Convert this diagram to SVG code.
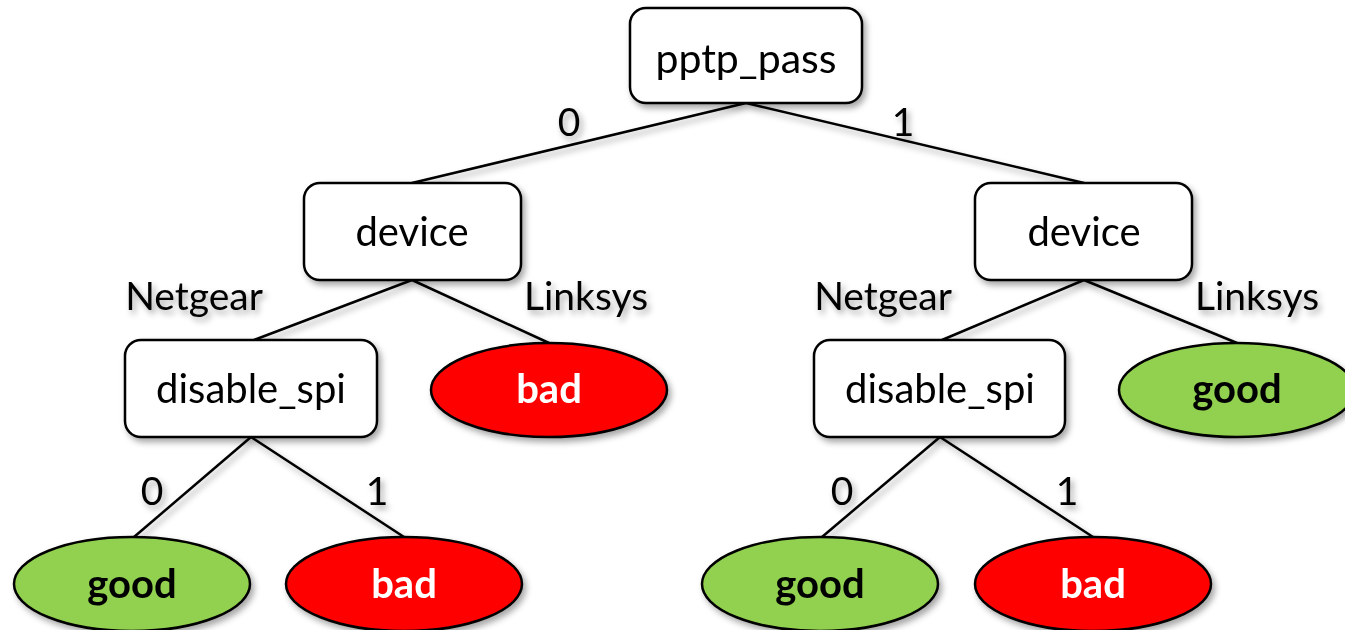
<svg xmlns="http://www.w3.org/2000/svg" width="1345" height="630" viewBox="0 0 1345 630">
<defs>
<filter id="sh" x="-20%" y="-20%" width="140%" height="140%">
<feDropShadow dx="3" dy="4" stdDeviation="3" flood-color="#000" flood-opacity="0.35"/>
</filter>
<style>
.box{fill:#fff;stroke:#000;stroke-width:2.5}
.good{fill:#92D050;stroke:#000;stroke-width:2.5}
.bad{fill:#FF0000;stroke:#000;stroke-width:2.5}
.t{font-family:Lato,"Open Sans",sans-serif;font-size:40px;fill:#000;text-anchor:middle}
.tb{font-family:Lato,"Open Sans",sans-serif;font-size:40px;font-weight:bold;text-anchor:middle}
.lbl{font-family:Lato,"Open Sans",sans-serif;font-size:39px;fill:#000;text-anchor:middle}
.edge{stroke:#000;stroke-width:2.5;fill:none}
</style>
</defs>
<g filter="url(#sh)">
<g id="connectors">
<line class="edge" x1="746" y1="103" x2="412" y2="183"/>
<line class="edge" x1="746" y1="103" x2="1084" y2="183"/>
<line class="edge" x1="412" y1="280" x2="254" y2="340"/>
<line class="edge" x1="412" y1="280" x2="549" y2="343"/>
<line class="edge" x1="1084" y1="280" x2="942" y2="340"/>
<line class="edge" x1="1084" y1="280" x2="1237" y2="343"/>
<line class="edge" x1="251" y1="437" x2="134" y2="537"/>
<line class="edge" x1="251" y1="437" x2="404" y2="537"/>
<line class="edge" x1="940" y1="437" x2="822" y2="537"/>
<line class="edge" x1="940" y1="437" x2="1093" y2="537"/>
<text class="lbl" x="569" y="136">0</text>
<text class="lbl" x="903" y="136">1</text>
<text class="lbl" x="194" y="310">Netgear</text>
<text class="lbl" x="586" y="310">Linksys</text>
<text class="lbl" x="883" y="310">Netgear</text>
<text class="lbl" x="1257" y="310">Linksys</text>
<text class="lbl" x="152" y="505">0</text>
<text class="lbl" x="377" y="505">1</text>
<text class="lbl" x="842" y="505">0</text>
<text class="lbl" x="1067" y="505">1</text>
</g>
<g id="n-pptp">
<rect class="box" x="630" y="8" width="232" height="95" rx="16"/>
<text class="t" x="746" y="73" style="font-size:41px">pptp_pass</text>
</g>
<g id="n-device-l">
<rect class="box" x="304" y="183" width="217" height="97" rx="16"/>
<text class="t" x="412" y="246">device</text>
</g>
<g id="n-device-r">
<rect class="box" x="975" y="183" width="217" height="97" rx="16"/>
<text class="t" x="1084" y="246">device</text>
</g>
<g id="n-spi-l">
<rect class="box" x="125" y="340" width="252" height="97" rx="16"/>
<text class="t" x="251" y="403">disable_spi</text>
</g>
<g id="n-spi-r">
<rect class="box" x="814" y="340" width="251" height="97" rx="16"/>
<text class="t" x="940" y="403">disable_spi</text>
</g>
<g id="n-bad-mid">
<ellipse class="bad" cx="549" cy="390" rx="118" ry="47"/>
<text class="tb" x="549" y="403" fill="#fff">bad</text>
</g>
<g id="n-good-right">
<ellipse class="good" cx="1237" cy="390" rx="118" ry="47"/>
<text class="tb" x="1237" y="403" fill="#000">good</text>
</g>
<g id="n-good-ll">
<ellipse class="good" cx="132" cy="584" rx="118" ry="47"/>
<text class="tb" x="132" y="598" fill="#000">good</text>
</g>
<g id="n-bad-ll">
<ellipse class="bad" cx="404" cy="584" rx="118" ry="47"/>
<text class="tb" x="404" y="598" fill="#fff">bad</text>
</g>
<g id="n-good-rl">
<ellipse class="good" cx="820" cy="584" rx="118" ry="47"/>
<text class="tb" x="820" y="598" fill="#000">good</text>
</g>
<g id="n-bad-rl">
<ellipse class="bad" cx="1093" cy="584" rx="118" ry="47"/>
<text class="tb" x="1093" y="598" fill="#fff">bad</text>
</g>
</g>
</svg>
